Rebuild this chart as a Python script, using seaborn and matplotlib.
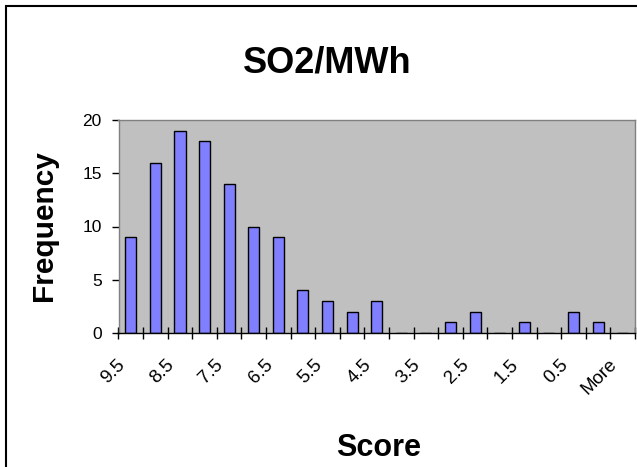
import matplotlib
matplotlib.use("Agg")
import matplotlib.pyplot as plt
from matplotlib.patches import Rectangle
from matplotlib.transforms import ScaledTranslation
import seaborn as sns
import pandas as pd

# Histogram bins (score, descending) and their counts
bins = ["9.5", "9", "8.5", "8", "7.5", "7", "6.5", "6", "5.5", "5", "4.5",
        "4", "3.5", "3", "2.5", "2", "1.5", "1", "0.5", "0", "More"]
frequency = [9, 16, 19, 18, 14, 10, 9, 4, 3, 2, 3,
             0, 0, 1, 2, 0, 1, 0, 2, 1, 0]
y_ticks = [0, 5, 10, 15, 20]

sns.set_theme(style="white")
plt.rcParams["font.family"] = ["Liberation Sans", "DejaVu Sans"]
for key in ["text.color", "axes.labelcolor", "xtick.color", "ytick.color"]:
    plt.rcParams[key] = "black"

df = pd.DataFrame({"Score": bins, "Frequency": frequency})

fig = plt.figure(figsize=(6.37, 4.67), dpi=100)
ax = fig.add_axes([118.5 / 637, (467 - 333) / 467, (635 - 118.5) / 637, (333 - 120) / 467])

sns.barplot(data=df, x="Score", y="Frequency", order=bins, color="#8080FF",
            saturation=1, edgecolor="black", linewidth=1, width=0.45, ax=ax)

ax.set_facecolor("#C0C0C0")
ax.set_xlim(-0.5, len(bins) - 0.5)
ax.set_ylim(0, 20)
ax.set_yticks(y_ticks)
ax.set_yticklabels([str(t) for t in y_ticks], fontsize=12.5, color="black")

# category labels on every other bin, tick marks on bin boundaries
major = list(range(0, len(bins), 2))
ax.set_xticks(major)
ax.set_xticklabels([bins[i] for i in major], fontsize=13.5, rotation=45,
                   ha="right", va="center", rotation_mode="anchor", color="black")
ax.set_xticks([i - 0.5 for i in range(len(bins) + 1)], minor=True)
ax.tick_params(axis="x", which="major", length=0, pad=21)
ax.tick_params(axis="x", which="minor", direction="inout", length=9,
               width=1, color="black", bottom=True)
ax.tick_params(axis="y", which="major", direction="out", length=5, width=1,
               color="black", left=True, pad=7)

# nudge the slanted labels so they end just left of their bin centre
shift = ScaledTranslation(-6 / 72, 0, fig.dpi_scale_trans)
for lbl in ax.get_xticklabels():
    lbl.set_transform(lbl.get_transform() + shift)

ax.set_xlabel("")
ax.set_ylabel("")
for side in ["top", "right", "left"]:
    ax.spines[side].set_visible(True)
    ax.spines[side].set_color("#808080")
    ax.spines[side].set_linewidth(1)
ax.spines["bottom"].set_color("black")
ax.spines["bottom"].set_linewidth(1)

fig.text(327 / 637, 1 - 63 / 467, "SO2/MWh", fontsize=26, fontweight="bold",
         ha="center", va="center")
fig.text(379 / 637, 1 - 448 / 467, "Score", fontsize=22, fontweight="bold",
         ha="center", va="center")
fig.text(44 / 637, 1 - 226 / 467, "Frequency", fontsize=21.5, fontweight="bold",
         ha="center", va="center", rotation=90)

# chart area frame
fig.patches.append(Rectangle((6 / 637, -0.1), 1.1, 1 - 6 / 467 + 0.1,
                             transform=fig.transFigure, fill=False,
                             edgecolor="black", linewidth=1.5, zorder=0))

fig.savefig("out.png", dpi=100)
